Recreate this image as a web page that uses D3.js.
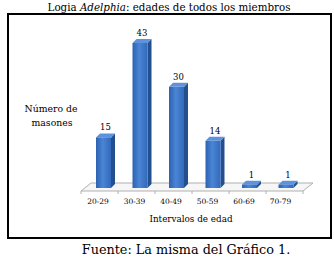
<!DOCTYPE html>
<meta charset="utf-8">
<script src="https://d3js.org/d3.v7.min.js"></script>
<style>
  body { margin: 0; background: #fff; }
</style>
<div id="my_dataviz"></div>
<script>

// data
var categories = ["20-29", "30-39", "40-49", "50-59", "60-69", "70-79"];
var values = [15, 43, 30, 14, 1, 1];

var W = 334, H = 257;
var serif = "'DejaVu Serif', serif";

var svg = d3.select("#my_dataviz")
  .append("svg")
    .attr("width", W)
    .attr("height", H)
    .attr("font-family", serif);

// title
var title = svg.append("text")
  .attr("x", 169).attr("y", 11)
  .attr("text-anchor", "middle")
  .style("font-size", "10.3px");
title.append("tspan").text("Logia ");
title.append("tspan").style("font-style", "italic").text("Adelphia");
title.append("tspan").text(": edades de todos los miembros");

// frame
svg.append("rect")
  .attr("x", 8).attr("y", 14)
  .attr("width", 323).attr("height", 224)
  .attr("fill", "none")
  .attr("stroke", "#000")
  .attr("stroke-width", 2);

// scales
var x = d3.scaleBand()
  .domain(categories)
  .range([79.75, 298.75]);

var y = d3.scaleLinear()
  .domain([0, 43])
  .range([188, 43]);

var depth = 4, barW = 15;

// floor (3d base)
var fl = 81, fr = 303, fy = 191, fd = 8;
svg.append("path")
  .attr("d", "M" + fl + "," + fy + "L" + fr + "," + fy + "L" + (fr + 10) + "," + (fy - fd) + "L" + (fl + 10) + "," + (fy - fd) + "Z")
  .attr("fill", "#f6f6f6")
  .attr("stroke", "#b0b0b0")
  .attr("stroke-width", 1);

// small ticks under floor
svg.selectAll(".tk")
  .data(d3.range(categories.length + 1))
  .enter().append("line")
    .attr("x1", function(i) { return 81 + i * (fr - fl) / categories.length; })
    .attr("x2", function(i) { return 81 + i * (fr - fl) / categories.length; })
    .attr("y1", fy).attr("y2", fy + 3)
    .attr("stroke", "#b0b0b0");

// gradient for front face
var defs = svg.append("defs");
var g = defs.append("linearGradient").attr("id", "front").attr("x1", "0").attr("x2", "1");
g.append("stop").attr("offset", "0%").attr("stop-color", "#2d62b0");
g.append("stop").attr("offset", "45%").attr("stop-color", "#4a85d6");
g.append("stop").attr("offset", "100%").attr("stop-color", "#3369ba");

var bars = svg.selectAll(".bar")
  .data(values)
  .enter().append("g");

function bx(d, i) { return x(categories[i]) + x.bandwidth() / 2 - 2; }

// side face
bars.append("path")
  .attr("d", function(d, i) {
    var x0 = bx(d, i) + barW, t = y(d), b = y(0);
    return "M" + x0 + "," + t + "L" + (x0 + depth) + "," + (t - depth) + "L" + (x0 + depth) + "," + (b - depth) + "L" + x0 + "," + b + "Z";
  })
  .attr("fill", "#22508f");

// top face
bars.append("path")
  .attr("d", function(d, i) {
    var x0 = bx(d, i), t = y(d);
    return "M" + x0 + "," + t + "L" + (x0 + depth) + "," + (t - depth) + "L" + (x0 + barW + depth) + "," + (t - depth) + "L" + (x0 + barW) + "," + t + "Z";
  })
  .attr("fill", "#5e92dc");

// front face
bars.append("rect")
  .attr("x", function(d, i) { return bx(d, i); })
  .attr("y", function(d) { return y(d); })
  .attr("width", barW)
  .attr("height", function(d) { return y(0) - y(d); })
  .attr("fill", "url(#front)");

// value labels
svg.selectAll(".val")
  .data(values)
  .enter().append("text")
    .attr("x", function(d, i) { return bx(d, i) + (barW + depth) / 2; })
    .attr("y", function(d) { return y(d) - 7; })
    .attr("text-anchor", "middle")
    .style("font-size", "8.5px")
    .text(function(d) { return d; });

// x tick labels
svg.selectAll(".cat")
  .data(categories)
  .enter().append("text")
    .attr("x", function(d) { return x(d) + x.bandwidth() / 2; })
    .attr("y", 204)
    .attr("text-anchor", "middle")
    .style("font-size", "7.5px")
    .text(function(d) { return d; });

// axis titles
svg.append("text")
  .attr("x", 191).attr("y", 222)
  .attr("text-anchor", "middle")
  .style("font-size", "8.8px")
  .text("Intervalos de edad");

svg.append("text")
  .attr("x", 51).attr("y", 112)
  .attr("text-anchor", "middle")
  .style("font-size", "9.3px")
  .text("Número de");
svg.append("text")
  .attr("x", 52).attr("y", 126)
  .attr("text-anchor", "middle")
  .style("font-size", "9.3px")
  .text("masones");

// source
svg.append("text")
  .attr("x", 186).attr("y", 254)
  .attr("text-anchor", "middle")
  .style("font-size", "12.8px")
  .text("Fuente: La misma del Gráfico 1.");

</script>
